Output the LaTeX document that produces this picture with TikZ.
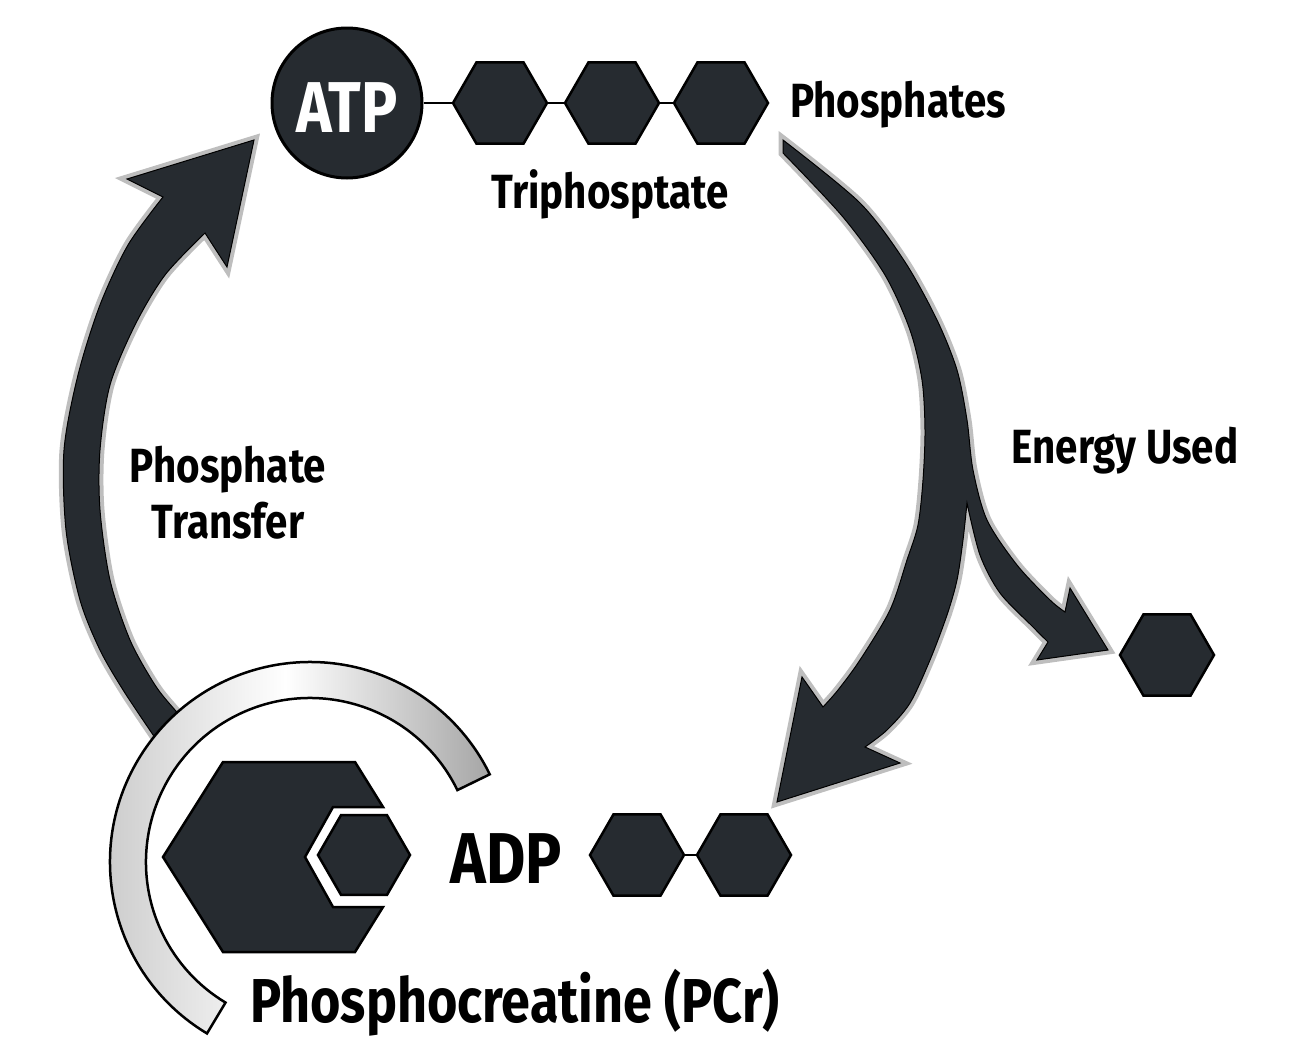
\documentclass[tikz,border=0pt]{standalone}
\usepackage{fontspec}
\usetikzlibrary{shapes.geometric}
\newfontfamily\labelfont[FakeStretch=0.84]{Fira Sans}
\definecolor{inkdark}{RGB}{38,43,48}
\definecolor{rimgray}{RGB}{190,190,190}

\begin{document}
\begin{tikzpicture}[
        x=1pt, y=-1pt,
        hexa/.style={regular polygon, regular polygon sides=6, minimum size=94pt, inner sep=0pt, fill=inkdark, draw=black, line width=2.5pt},
        bond/.style={draw=black, line width=2.5pt},
        bigarrow/.style={fill=inkdark, draw=black, line width=1pt, preaction={draw=rimgray, line width=9pt}},
        lbl/.style={font=\labelfont\bfseries\fontsize{48}{52}\selectfont, anchor=base, inner sep=0pt},
    ]
        \useasboundingbox (0,0) rectangle (1294,1042);

        % Energy used arrow (right side, splits off one phosphate)
        \path[bigarrow] (783,153) -- (783,140)
            -- plot[smooth] coordinates {(783,140) (860,203) (905,262) (937,320) (957,370) (967,420) (973,470) (987,520) (1017,565) (1050,600) (1065,612)}
            -- (1070,588) -- (1108,650) -- (1037,660) -- (1048,642)
            -- plot[smooth] coordinates {(1048,642) (1033,627) (1000,593) (980,555) (967,503)}
            -- plot[smooth] coordinates {(967,503) (963,540) (957,580) (947,615) (930,660) (910,703) (887,730) (865,747)}
            -- (900,763) -- (777,802) -- (802,677) -- (823,707)
            -- plot[smooth] coordinates {(823,707) (838,690) (860,660) (890,610) (907,560) (918,525) (923,480) (925,430) (922,380) (910,330) (885,275) (843,217) (783,153)}
            -- cycle;

        % Phosphate transfer arrow (left side)
        \path[bigarrow] (254,140) -- (127,179) -- (163,197)
            -- plot[smooth] coordinates {(163,197) (128,245) (100,305) (78,375) (64,450) (66,530) (80,600) (100,650) (125,693) (160,745)}
            -- plot[smooth] coordinates {(192,728) (175,710) (155,685) (130,640) (110,580) (100,510) (100,450) (110,385) (135,325) (165,275) (205,233)}
            -- (227,267) -- cycle;

        % Silver ring round the creatine
        \path[left color=gray!45, right color=gray!70, middle color=white, draw=black, line width=2.5pt]
            (310,862) ++(121:200) arc[start angle=121, end angle=334, radius=200]
            -- ++(154:36) arc[start angle=334, end angle=121, radius=164] -- cycle;

        % ATP with its three phosphates
        \node[circle, minimum size=150pt, inner sep=0pt, fill=inkdark, draw=black, line width=3pt] (atp) at (347,103) {};
        \node[font=\labelfont\bfseries\fontsize{72}{76}\selectfont, text=white, anchor=base, inner sep=0pt] (atptext) at (347,132) {ATP};
        \node[hexa] (pa) at (500,103) {};
        \node[hexa] (pb) at (612,103) {};
        \node[hexa] (pc) at (721,103) {};
        \draw[bond] (atp) -- (pa);
        \draw[bond] (pa) -- (pb);
        \draw[bond] (pb) -- (pc);
        \node[lbl, anchor=base west] (phos) at (790,117) {Phosphates};
        \node[lbl] (tri) at (610,208) {Triphosptate};

        % Released phosphate
        \node[lbl] (used) at (1125,463) {Energy Used};
        \node[hexa] (pfree) at (1167,655) {};

        % Transfer label
        \node[lbl] (trans1) at (228,482) {Phosphate};
        \node[lbl] (trans2) at (228,538) {Transfer};

        % ADP with two phosphates
        \node[font=\labelfont\bfseries\fontsize{72}{76}\selectfont, anchor=base, inner sep=0pt] (adp) at (506,883) {ADP};
        \node[hexa] (pd) at (637,855) {};
        \node[hexa] (pe) at (744,855) {};
        \draw[bond] (pd) -- (pe);

        % Phosphocreatine
        \path[fill=inkdark, draw=black, line width=2.5pt] (163,857) -- (223,762) -- (355,762) -- (383,807) -- (333,807) -- (305,857) -- (333,907) -- (383,907) -- (355,952) -- (223,952) -- cycle;
        \node[hexa, minimum size=92pt] (pcr) at (364,855) {};
        \node[font=\labelfont\bfseries\fontsize{62}{66}\selectfont, anchor=base, inner sep=0pt] (pcrtext) at (515,1022) {Phosphocreatine (PCr)};
    \end{tikzpicture}
\end{document}
